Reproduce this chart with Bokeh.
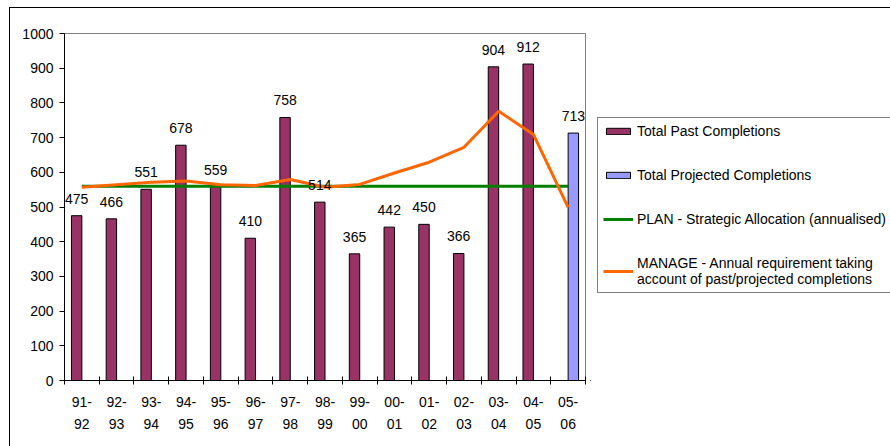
from bokeh.plotting import figure
from bokeh.layouts import row
from bokeh.models import (ColumnDataSource, FixedTicker, Legend, LegendItem,
                          Range1d, InlineStyleSheet)
from bokeh.transform import dodge
from bokeh.embed import file_html
from bokeh.resources import INLINE

years = ["91-\n92", "92-\n93", "93-\n94", "94-\n95", "95-\n96", "96-\n97", "97-\n98",
         "98-\n99", "99-\n00", "00-\n01", "01-\n02", "02-\n03", "03-\n04", "04-\n05", "05-\n06"]
past = [475, 466, 551, 678, 559, 410, 758, 514, 365, 442, 450, 366, 904, 912]
projected = [713]
plan = [560, 560, 560, 560, 560, 560, 560, 560, 560, 560, 560, 560, 560, 560, 560]
manage = [557, 564, 571, 575, 564, 562, 579, 557, 565, 598, 629, 672, 776, 709, 499]
y_ticks = [0, 100, 200, 300, 400, 500, 600, 700, 800, 900, 1000]
legend_labels = ["Total Past Completions", "Total Projected Completions",
                 "PLAN - Strategic Allocation (annualised)",
                 "MANAGE - Annual requirement taking\naccount of past/projected completions"]

FONT = "Liberation Sans"
PAST_COLOR, PROJ_COLOR = "#993366", "#9999FF"
PLAN_COLOR, MANAGE_COLOR = "#008000", "#FF6600"
n = len(years)
centers = [i + 0.5 for i in range(n)]

# ---------------- main chart ----------------
p = figure(width=590, height=446, x_range=Range1d(0, n), y_range=Range1d(0, 1000),
           output_backend="svg", toolbar_location=None,
           min_border_left=64, min_border_right=5, min_border_top=33, min_border_bottom=66)
p.background_fill_color = "white"
p.border_fill_color = "white"
p.outline_line_color = "#808080"
p.xgrid.visible = False
p.ygrid.visible = False

src_past = ColumnDataSource(dict(x=centers[:len(past)], top=past, label=[str(v) for v in past]))
src_proj = ColumnDataSource(dict(x=centers[len(past):len(past) + len(projected)], top=projected,
                                 label=[str(v) for v in projected]))
src_line = ColumnDataSource(dict(x=centers, plan=plan, manage=manage))

p.vbar(x=dodge("x", -0.15, range=p.x_range), top="top", width=0.3, bottom=0,
       source=src_past, fill_color=PAST_COLOR, line_color="black", line_width=1)
p.vbar(x=dodge("x", 0.15, range=p.x_range), top="top", width=0.3, bottom=0,
       source=src_proj, fill_color=PROJ_COLOR, line_color="black", line_width=1)
p.line("x", "plan", source=src_line, line_color=PLAN_COLOR, line_width=3)
p.line("x", "manage", source=src_line, line_color=MANAGE_COLOR, line_width=3)

for src, off in ((src_past, -0.15), (src_proj, 0.15)):
    p.text(x=dodge("x", off, range=p.x_range), y="top", text="label", source=src,
           text_align="center", text_baseline="bottom", y_offset=-12,
           text_font={"value": FONT}, text_font_size="14px", text_color="black")

p.yaxis.ticker = FixedTicker(ticks=y_ticks)
p.yaxis.axis_line_color = "black"
p.yaxis.major_tick_line_color = "black"
p.yaxis.major_tick_in = 0
p.yaxis.major_tick_out = 5
p.yaxis.minor_tick_line_color = None
p.yaxis.major_label_standoff = 6
p.yaxis.major_label_text_font = FONT
p.yaxis.major_label_text_font_size = "14px"
p.yaxis.major_label_text_color = "black"

p.xaxis.ticker = FixedTicker(ticks=centers, minor_ticks=list(range(n + 1)))
p.xaxis.major_label_overrides = {c: lab for c, lab in zip(centers, years)}
p.xaxis.axis_line_color = "black"
p.xaxis.major_tick_line_color = None
p.xaxis.major_tick_in = 0
p.xaxis.major_tick_out = 0
p.xaxis.minor_tick_line_color = "black"
p.xaxis.minor_tick_in = 4
p.xaxis.minor_tick_out = 4
p.xaxis.major_label_standoff = 9
p.xaxis.major_label_text_font = FONT
p.xaxis.major_label_text_font_size = "14px"
p.xaxis.major_label_text_color = "black"
p.xaxis.major_label_text_line_height = 1.4

# ---------------- legend panel ----------------
q = figure(width=300, height=446, x_range=Range1d(0, 1), y_range=Range1d(0, 1),
           output_backend="svg", toolbar_location=None, min_border=0)
q.axis.visible = False
q.grid.visible = False
q.outline_line_color = None
q.background_fill_color = "white"
q.border_fill_color = "white"

# legend-only renderers: one off-range point each, so only their legend swatches show
swatch = ColumnDataSource(dict(x=[-5.0, -4.0], top=[-5.0, -4.0]))
lr_past = q.vbar(x="x", top="top", bottom=-6, width=0.3, source=swatch,
                 fill_color=PAST_COLOR, line_color="black", line_width=1)
lr_proj = q.vbar(x="x", top="top", bottom=-6, width=0.3, source=swatch,
                 fill_color=PROJ_COLOR, line_color="black", line_width=1)
lr_plan = q.line(x="x", y="top", source=swatch, line_color=PLAN_COLOR, line_width=3)
lr_manage = q.line(x="x", y="top", source=swatch, line_color=MANAGE_COLOR, line_width=3)

legend = Legend(items=[LegendItem(label=lab, renderers=[r]) for lab, r in
                       zip(legend_labels, [lr_past, lr_proj, lr_plan, lr_manage])],
                location=(7, 87))
legend.border_line_color = "black"
legend.border_line_width = 1
legend.background_fill_color = "white"
legend.background_fill_alpha = 1
legend.padding = 5
legend.margin = 0
legend.spacing = 28
legend.glyph_width = 30
legend.glyph_height = 8
legend.label_standoff = 4
legend.label_height = 16
legend.label_text_font = FONT
legend.label_text_font_size = "14px"
legend.label_text_line_height = 1.35
legend.label_text_color = "black"
q.add_layout(legend, "center")

layout = row(p, q, spacing=0)
layout.stylesheets = [InlineStyleSheet(css=(
    ":host::after { content: ''; position: absolute; left: 9px; top: 7px; "
    "width: 1000px; height: 1000px; border-left: 1.5px solid black; "
    "border-top: 1.5px solid black; pointer-events: none; z-index: 10; }"
))]

open("out.html", "w").write(file_html(layout, INLINE))
